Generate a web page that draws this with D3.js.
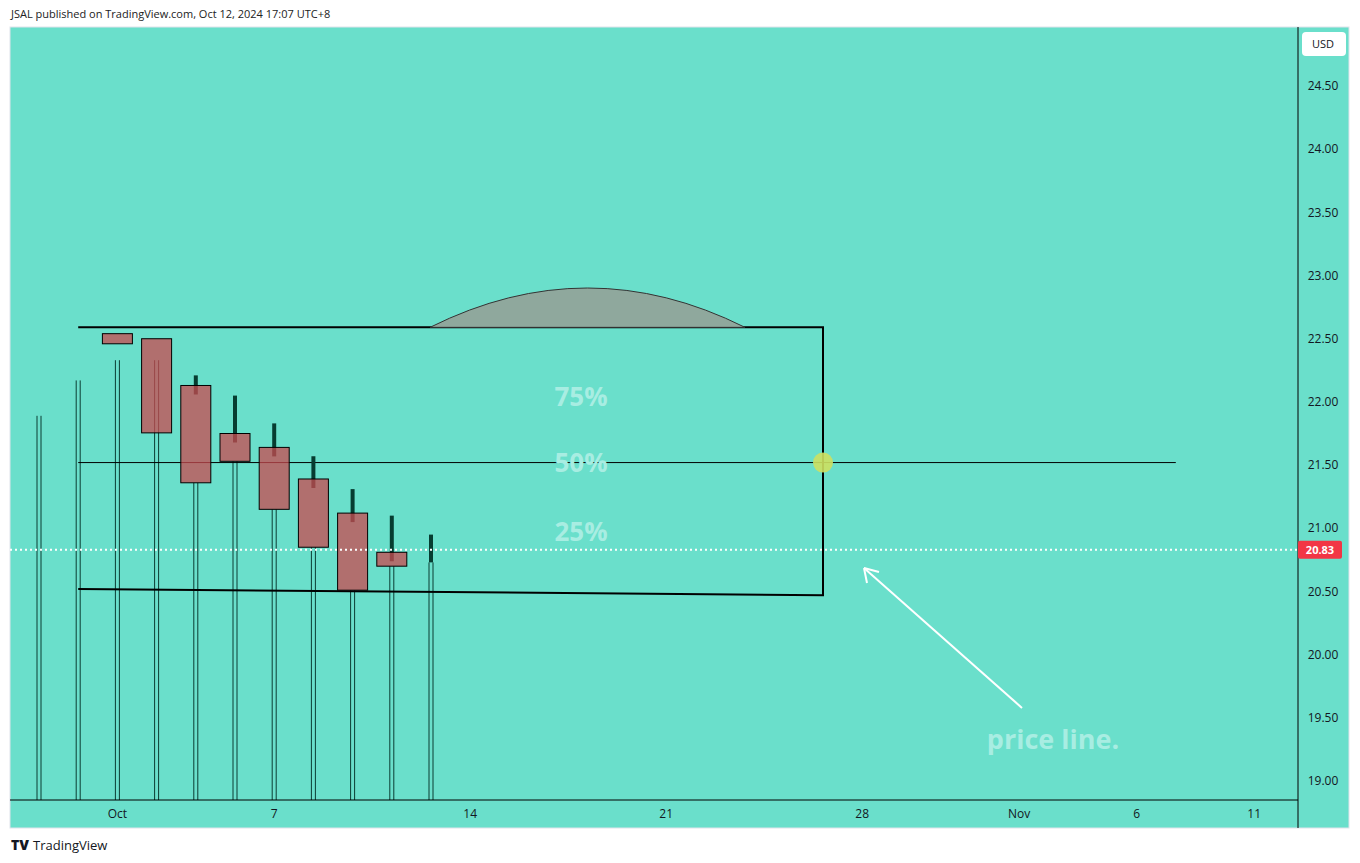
<!DOCTYPE html>
<html><head><meta charset="utf-8">
<script src="https://cdn.jsdelivr.net/npm/d3@7"></script>
<style>body{margin:0;background:#fff;font-family:"Open Sans",sans-serif}</style>
</head><body>
<svg id="chart" width="1360" height="863"></svg>
<script>
// trading-day index: 0 = Sep 27
const dayTicks = [{i:2,t:'Oct'},{i:6,t:'7'},{i:11,t:'14'},{i:16,t:'21'},{i:21,t:'28'},{i:25,t:'Nov'},{i:28,t:'6'},{i:31,t:'11'}];
const priceTicks = [19,19.5,20,20.5,21,21.5,22,22.5,23,23.5,24,24.5];
const candleIdx = [2,3,4,5,6,7,8,9,10];
const opens  = [22.54,22.50,22.13,21.75,21.64,21.39,21.12,20.81,20.77];
const closes = [22.46,21.755,21.36,21.53,21.15,20.85,20.51,20.70,20.76];
const highs  = [22.54,22.50,22.21,22.05,21.83,21.57,21.31,21.10,20.95];
const lows   = [22.46,21.755,21.36,21.53,21.15,20.85,20.51,20.70,20.73];
const stemIdx = [0,1,2,3,4,5,6,7,8,9,10];
const stemTops = [21.89,22.17,22.33,22.33,21.36,21.53,21.15,20.85,20.51,20.70,20.73];
const lastPrice = 20.83;
const box = {i0:1, i1:20, top:22.59, botL:20.52, botR:20.47, mid:21.52, midEnd:29};
const levels = [{p:22.04,t:'75%'},{p:21.52,t:'50%'},{p:20.97,t:'25%'}];

const svg = d3.select('#chart');
const L=10, R=1298, T=27, B=800;
const x = d3.scaleLinear().domain([0,1]).range([39,78.2]);
const y = d3.scaleLinear().domain([19,24.5]).range([781,86]);

svg.append('text').attr('x',11).attr('y',18).style('font-size','11px').attr('fill','#222')
  .text('JSAL published on TradingView.com, Oct 12, 2024 17:07 UTC+8');
svg.append('rect').attr('x',L).attr('y',T).attr('width',1339).attr('height',801)
  .attr('fill','#6adfcb').attr('stroke','#e0e3eb');

const g = svg.append('g');
svg.append('clipPath').attr('id','pc').append('rect').attr('x',L).attr('y',T).attr('width',R-L).attr('height',B-T);
g.attr('clip-path','url(#pc)');

// stems (double lines)
stemIdx.forEach((i,k)=>{
  [-2,2].forEach(dx=>{
    g.append('line').attr('x1',x(i)+dx).attr('x2',x(i)+dx).attr('y1',y(stemTops[k])).attr('y2',B)
      .attr('stroke','#0b3d33').attr('stroke-width',1);
  });
});

// box
g.append('path').attr('d',`M${x(box.i0)},${y(box.top)}L${x(box.i1)},${y(box.top)}L${x(box.i1)},${y(box.botR)}L${x(box.i0)},${y(box.botL)}`)
  .attr('fill','none').attr('stroke','#000').attr('stroke-width',2);
g.append('line').attr('x1',x(box.i0)).attr('x2',x(box.midEnd)).attr('y1',y(box.mid)).attr('y2',y(box.mid))
  .attr('stroke','#000').attr('stroke-width',1);

// arc
const ax0=430, ax1=745, ay=y(box.top), atop=288;
g.append('path').attr('d',`M${ax0},${ay}Q${(ax0+ax1)/2},${2*atop-ay} ${ax1},${ay}Z`)
  .attr('fill','#8fa89d').attr('stroke','#333').attr('stroke-width',1);

// candles
candleIdx.forEach((i,k)=>{
  const cx=x(i);
  const top=Math.max(opens[k],closes[k]);
  const last = k===candleIdx.length-1;
  if(highs[k]>top+0.005 || last)
    g.append('line').attr('x1',cx).attr('x2',cx).attr('y1',y(highs[k])).attr('y2',last ? y(lows[k]) : y(top)+9)
      .attr('stroke','#063d31').attr('stroke-width',4);
  if(!last)
    g.append('rect').attr('x',cx-15).attr('width',30).attr('y',y(top)).attr('height',y(Math.min(opens[k],closes[k]))-y(top))
      .attr('fill','#c94a4f').attr('fill-opacity',0.75).attr('stroke','#000').attr('stroke-width',1);
});

// levels
levels.forEach(l=>{
  g.append('text').attr('x',581).attr('y',y(l.p)).attr('dy','0.35em').attr('text-anchor','middle')
    .style('font-size','26px').style('font-weight','bold').attr('fill','#a8ede2').text(l.t);
});
g.append('circle').attr('cx',x(box.i1)).attr('cy',y(box.mid)).attr('r',10).attr('fill','#cde060').attr('fill-opacity',0.9);

// price line
g.append('line').attr('x1',L).attr('x2',R).attr('y1',y(lastPrice)).attr('y2',y(lastPrice))
  .attr('stroke','#fff').attr('stroke-width',2).attr('stroke-dasharray','2,3');

// arrow
g.append('line').attr('x1',1022).attr('y1',708).attr('x2',864).attr('y2',568).attr('stroke','#fff').attr('stroke-width',2);
g.append('path').attr('d','M864,568L879,572M864,568L867,583').attr('stroke','#fff').attr('stroke-width',2).attr('fill','none');
g.append('text').attr('x',1053).attr('y',749).attr('text-anchor','middle').style('font-size','27px').style('font-weight','bold')
  .attr('fill','#a8ede2').text('price line.');

// axes
svg.append('line').attr('x1',R).attr('x2',R).attr('y1',T).attr('y2',828).attr('stroke','#000');
svg.append('line').attr('x1',L).attr('x2',R).attr('y1',B).attr('y2',B).attr('stroke','#000');
priceTicks.forEach(p=>{
  svg.append('text').attr('x',1323).attr('y',y(p)).attr('dy','0.35em').attr('text-anchor','middle')
    .style('font-size','12px').attr('fill','#131722').text(p.toFixed(2));
});
dayTicks.forEach(d=>{
  svg.append('text').attr('x',x(d.i)).attr('y',818).attr('text-anchor','middle')
    .style('font-size','12px').attr('fill','#131722').text(d.t);
});
svg.append('rect').attr('x',1302).attr('y',32).attr('width',44).attr('height',24).attr('rx',4).attr('fill','#fff');
svg.append('text').attr('x',1323).attr('y',44).attr('dy','0.35em').attr('text-anchor','middle').style('font-size','11px').attr('fill','#131722').text('USD');
svg.append('rect').attr('x',1298).attr('y',y(lastPrice)-9).attr('width',44).attr('height',18).attr('rx',2).attr('fill','#f23645');
svg.append('text').attr('x',1320).attr('y',y(lastPrice)).attr('dy','0.35em').attr('text-anchor','middle')
  .style('font-size','11px').style('font-weight','bold').attr('fill','#fff').text(lastPrice.toFixed(2));

// footer
svg.append('text').attr('x',11).attr('y',850).style('font-size','14px').style('font-weight','900').attr('fill','#131722').text('TV');
svg.append('text').attr('x',33).attr('y',850).style('font-size','13px').attr('fill','#131722').text('TradingView');
</script>
</body></html>
